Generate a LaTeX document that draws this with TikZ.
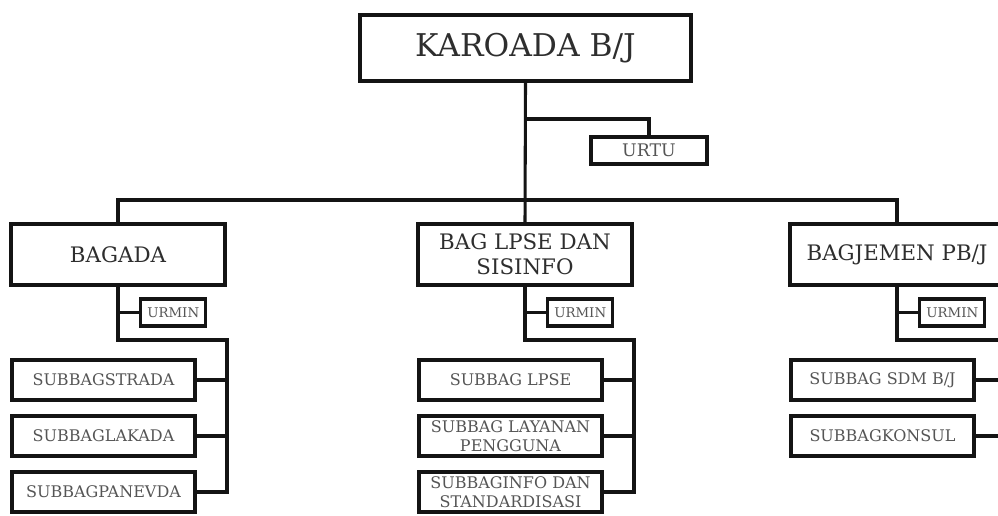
\documentclass[tikz,border=0pt]{standalone}
\usepackage{fontspec}
\setmainfont{DejaVu Serif}
\usetikzlibrary{positioning,calc}
\definecolor{orgInk}{HTML}{141414}
\definecolor{orgHead}{HTML}{2E2E2E}
\definecolor{orgSub}{HTML}{555555}

\tikzset{
  unit/.style={draw=orgInk,line width=3pt,fill=white,inner sep=1pt,align=center},
  topbox/.style={unit,minimum width=248pt,minimum height=49.5pt,text=orgHead,font=\fontsize{23.5}{26}\selectfont},
  bagbox/.style={unit,minimum width=160.5pt,minimum height=45.75pt,text=orgHead,font=\fontsize{16}{19}\selectfont},
  urbox/.style={unit,line width=2.6pt,minimum height=20.25pt,text=orgSub,font=\fontsize{10}{12}\selectfont},
  subbox/.style={unit,minimum width=137.25pt,minimum height=30pt,text=orgSub,font=\fontsize{12}{14}\selectfont},
  link/.style={draw=orgInk,line width=2.3pt,line cap=rect}
}

\begin{document}
\begin{tikzpicture}[x=0.75pt,y=-0.75pt]
\useasboundingbox (0,0) rectangle (998,515);
\clip (0,0) rectangle (998,515);
% head and its unit
\node[topbox] (karo) at (525.5,48) {KAROADA B/J};
\node[urbox,minimum width=87pt,font=\fontsize{13}{15}\selectfont] (urtu) at (649,150.5) {URTU};
\coordinate (karoknee) at (527,119);
\coordinate (bus) at (527,200);
% three bagian
\node[bagbox] (bagada) at (118,254.5) {BAGADA};
\node[bagbox] (baglpse) at (525,254.5) {BAG LPSE DAN\\SISINFO};
\node[bagbox] (bagjemen) at (897,254.5) {BAGJEMEN PB/J};
\draw[link] (karo.south) -- (baglpse.north);
\draw[link] (karo.south |- karoknee) -| (urtu.north);
\draw[link] (bagada.north) |- (bus) -| (bagjemen.north);
\foreach \b in {bagada,baglpse,bagjemen} {
  \node[urbox,minimum width=48.75pt,anchor=west] (\b-urmin) at ($(\b.south)+(21,25.5)$) {URMIN};
  \coordinate (\b-rail) at ($(\b.south)+(109,53)$);
  \draw[link] (\b.south) |- (\b-rail);
  \draw[link] (\b-urmin.west) -- (\b-urmin.west -| \b.south);
}
% subbagian
\foreach \b/\i/\t in {bagada/1/SUBBAGSTRADA, bagada/2/SUBBAGLAKADA, bagada/3/SUBBAGPANEVDA,
    baglpse/1/SUBBAG LPSE, baglpse/2/{SUBBAG LAYANAN\\PENGGUNA}, baglpse/3/{SUBBAGINFO DAN\\STANDARDISASI},
    bagjemen/1/{SUBBAG SDM B/J}, bagjemen/2/SUBBAGKONSUL} {
  \pgfmathsetmacro{\dy}{93+56*(\i-1)}
  \node[subbox] (\b-s\i) at ($(\b.south)+(-14.5,\dy)$) {\t};
  \draw[link] (\b-s\i.east) -| (\b-rail);
}
\end{tikzpicture}
\end{document}
